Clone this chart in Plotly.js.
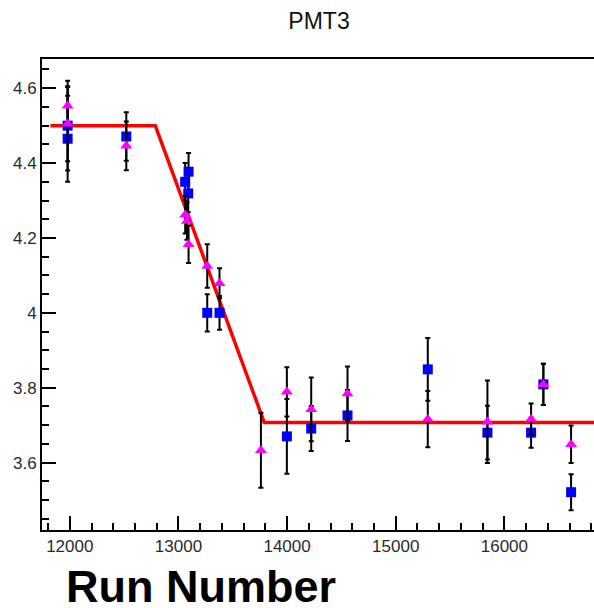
<!DOCTYPE html>
<html>
<head>
<meta charset="utf-8">
<script src="https://cdn.plot.ly/plotly-3.0.1.min.js"></script>
<style>html,body{margin:0;padding:0;background:#fff;}#chart{width:594px;height:608px;}</style>
</head>
<body>
<div id="chart"></div>
<script>
// Fit line (piecewise)
const fitX = [11821, 12787, 13790, 16825];
const fitY = [4.5, 4.5, 3.707, 3.707];

// Blue squares
const blueX = [11980, 11980, 12520, 13062, 13093, 13090, 13265, 13378, 13998, 14222, 14556, 15295, 15844, 16246, 16359, 16614];
const blueY = [4.500, 4.465, 4.471, 4.350, 4.377, 4.319, 4.000, 4.000, 3.670, 3.691, 3.726, 3.849, 3.680, 3.680, 3.809, 3.521];
const blueErr = [0.12, 0.115, 0.065, 0.05, 0.05, 0.05, 0.05, 0.045, 0.10, 0.06, 0.068, 0.084, 0.072, 0.04, 0.055, 0.048];

// Magenta triangles
const magX = [11980, 11980, 12520, 13062, 13078, 13093, 13265, 13378, 13759, 13998, 14222, 14556, 15295, 15844, 16246, 16359, 16614];
const magY = [4.553, 4.505, 4.446, 4.262, 4.245, 4.183, 4.125, 4.079, 3.633, 3.789, 3.742, 3.784, 3.716, 3.709, 3.716, 3.809, 3.649];
const magErr = [0.05, 0.1, 0.065, 0.05, 0.05, 0.05, 0.058, 0.04, 0.1, 0.066, 0.085, 0.073, 0.075, 0.11, 0.042, 0.055, 0.05];

const titleText = 'PMT3';
const xTitleText = 'Run Number';

const errStyle = {type: 'data', visible: true, color: '#000', thickness: 2, width: 2.5};

const traces = [
  {x: fitX, y: fitY, mode: 'lines', line: {color: '#ff0000', width: 3.5}, hoverinfo: 'skip'},
  {x: blueX, y: blueY, mode: 'markers', type: 'scatter',
   marker: {symbol: 'square', size: 10, color: '#0000ff'},
   error_y: Object.assign({array: blueErr}, errStyle)},
  {x: magX, y: magY, mode: 'markers', type: 'scatter',
   marker: {symbol: 'triangle-up', size: 10.5, color: '#ff00ff'},
   error_y: Object.assign({array: magErr}, errStyle)}
];

const tickFont = {family: 'Liberation Sans, Arial, sans-serif', size: 17, color: '#2a2a2a'};

const layout = {
  width: 594, height: 608,
  margin: {l: 42, r: 0, t: 59, b: 78, pad: 0},
  paper_bgcolor: '#fff', plot_bgcolor: '#fff',
  showlegend: false,
  title: {text: titleText, x: 319/594, xanchor: 'center', xref: 'container', y: 1 - 21/608, yanchor: 'middle', yref: 'container',
          font: {family: 'Liberation Sans, Arial, sans-serif', size: 23, color: '#111'}},
  xaxis: {
    range: [11744, 16825], showgrid: false, zeroline: false,
    showline: true, linecolor: '#000', linewidth: 2, mirror: true,
    ticks: 'inside', ticklen: 14, tickwidth: 2, tickcolor: '#000',
    dtick: 1000, tick0: 12000, tickformat: 'd', tickfont: tickFont,
    minor: {dtick: 200, ticklen: 7, tickwidth: 2, tickcolor: '#000', ticks: 'inside', showgrid: false}
  },
  yaxis: {
    range: [3.42, 4.678], showgrid: false, zeroline: false,
    showline: true, linecolor: '#000', linewidth: 2, mirror: false,
    ticks: 'inside', ticklen: 14, tickwidth: 2, tickcolor: '#000',
    dtick: 0.2, tick0: 3.6, tickfont: tickFont,
    minor: {dtick: 0.05, ticklen: 7, tickwidth: 2, tickcolor: '#000', ticks: 'inside', showgrid: false}
  },
  annotations: [
    {text: xTitleText, xref: 'paper', yref: 'paper', x: (200.5 - 42) / 552, y: -(586 - 530) / 471,
     xanchor: 'center', yanchor: 'middle', showarrow: false,
     font: {family: 'Liberation Sans, Arial, sans-serif', size: 45, color: '#000', weight: 'bold'}}
  ]
};

Plotly.newPlot('chart', traces, layout, {displayModeBar: false, staticPlot: true});
</script>
</body>
</html>
